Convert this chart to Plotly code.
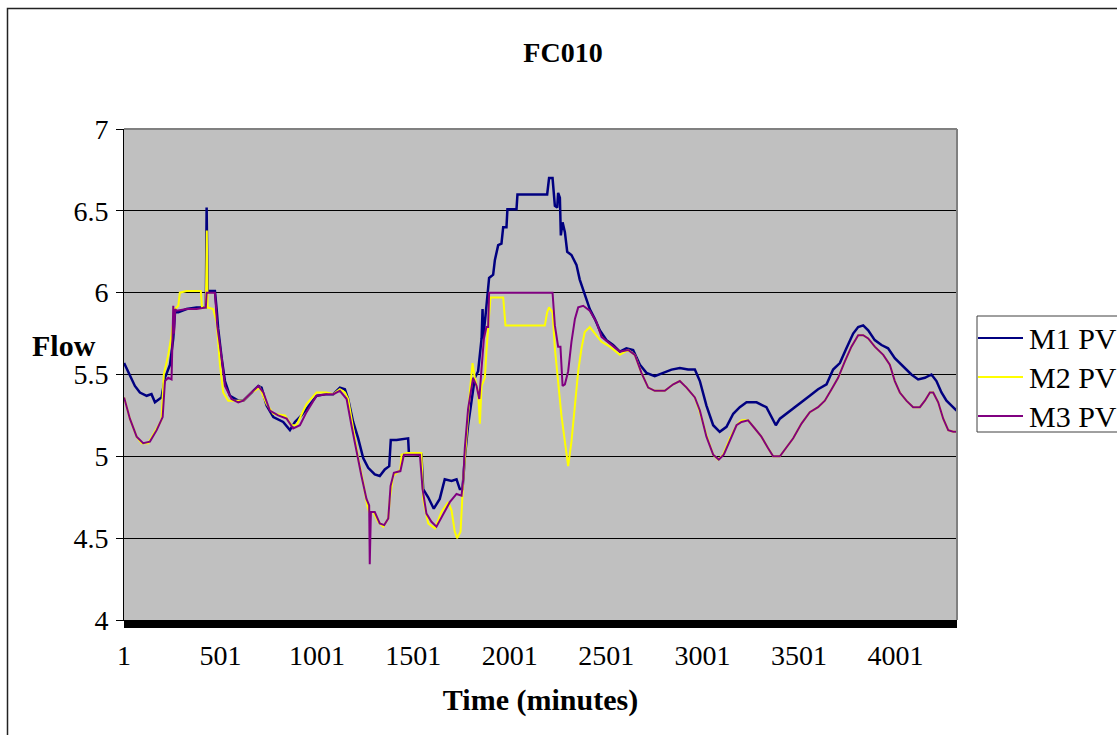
import plotly.graph_objects as go

# ---------------- data ----------------
N_MINUTES = 4320
x_tick_vals = [1, 501, 1001, 1501, 2001, 2501, 3001, 3501, 4001]
x_tick_text = ["1", "501", "1001", "1501", "2001", "2501", "3001", "3501", "4001"]
y_tick_vals = [4, 4.5, 5, 5.5, 6, 6.5, 7]

m1_t = [1, 31, 57, 83, 118, 143, 161, 195, 213, 239, 256, 265, 282, 325, 377, 425, 429, 434,
        472, 481, 489, 507, 524, 550, 593, 619, 654, 697, 714, 740, 775, 826, 861, 887, 921,
        965, 999, 1051, 1086, 1120, 1146, 1163, 1189, 1215, 1241, 1267, 1301, 1327, 1353,
        1376, 1384, 1414, 1474, 1478, 1543, 1552, 1578, 1607, 1638, 1664, 1699, 1725, 1742,
        1756, 1768, 1785, 1803, 1820, 1837, 1855, 1860, 1863, 1877, 1889, 1894, 1915, 1924,
        1941, 1958, 1967, 1984, 1989, 2036, 2041, 2105, 2195, 2205, 2223, 2235, 2247, 2252,
        2261, 2266, 2275, 2287, 2299, 2321, 2347, 2364, 2390, 2416, 2442, 2468, 2503, 2537,
        2572, 2606, 2641, 2676, 2710, 2753, 2797, 2840, 2883, 2926, 2961, 2987, 3021, 3056,
        3090, 3125, 3160, 3194, 3229, 3281, 3332, 3358, 3381, 3402, 3436, 3471, 3514, 3557,
        3600, 3644, 3678, 3713, 3747, 3782, 3808, 3834, 3860, 3894, 3929, 3963, 3998, 4041,
        4084, 4119, 4154, 4188, 4214, 4240, 4266, 4292, 4318]
m1_v = [5.57, 5.50, 5.43, 5.39, 5.37, 5.38, 5.33, 5.36, 5.48, 5.56, 5.72, 5.88, 5.88, 5.90,
        5.91, 5.91, 6.52, 6.01, 6.01, 5.90, 5.78, 5.60, 5.46, 5.37, 5.34, 5.34, 5.38, 5.43,
        5.42, 5.31, 5.24, 5.21, 5.16, 5.21, 5.25, 5.32, 5.37, 5.38, 5.38, 5.42, 5.41, 5.35,
        5.21, 5.11, 4.99, 4.93, 4.89, 4.88, 4.92, 4.94, 5.10, 5.10, 5.11, 5.02, 5.01, 4.80,
        4.75, 4.68, 4.74, 4.86, 4.85, 4.86, 4.80, 4.80, 4.99, 5.19, 5.35, 5.48, 5.52, 5.72,
        5.90, 5.72, 5.88, 6.01, 6.09, 6.11, 6.20, 6.29, 6.30, 6.40, 6.40, 6.51, 6.51, 6.60,
        6.60, 6.60, 6.70, 6.70, 6.53, 6.52, 6.61, 6.58, 6.35, 6.43, 6.37, 6.25, 6.23, 6.17,
        6.08, 5.99, 5.90, 5.84, 5.77, 5.71, 5.68, 5.64, 5.66, 5.65, 5.56, 5.51, 5.49, 5.51,
        5.53, 5.54, 5.53, 5.53, 5.46, 5.31, 5.19, 5.15, 5.18, 5.26, 5.30, 5.33, 5.33, 5.30,
        5.24, 5.19, 5.23, 5.26, 5.29, 5.33, 5.37, 5.41, 5.44, 5.53, 5.57, 5.66, 5.75, 5.79,
        5.80, 5.77, 5.71, 5.68, 5.66, 5.60, 5.55, 5.50, 5.47, 5.48, 5.50, 5.46, 5.39, 5.34,
        5.31, 5.28]

m2_t = [1, 31, 66, 92, 126, 161, 195, 207, 230, 247, 265, 282, 290, 325, 399, 405, 425, 430,
        434, 463, 481, 498, 515, 541, 584, 619, 662, 705, 740, 775, 835, 870, 895, 947, 999,
        1051, 1086, 1120, 1146, 1163, 1189, 1215, 1241, 1262, 1272, 1293, 1319, 1345, 1371,
        1379, 1396, 1414, 1434, 1440, 1466, 1543, 1552, 1578, 1613, 1647, 1682, 1699, 1716,
        1728, 1746, 1760, 1777, 1794, 1808, 1820, 1837, 1846, 1855, 1872, 1880, 1889, 1901,
        1967, 1979, 2183, 2195, 2205, 2223, 2235, 2252, 2269, 2287, 2304, 2321, 2339, 2356,
        2373, 2390, 2416, 2442, 2477, 2520, 2572, 2615, 2650, 2684, 2719, 2753, 2805, 2849,
        2883, 2918, 2961, 2987, 3021, 3056, 3082, 3108, 3142, 3177, 3203, 3237, 3272, 3306,
        3341, 3367, 3402, 3428, 3471, 3514, 3557, 3600, 3635, 3670, 3704, 3739, 3773, 3808,
        3834, 3860, 3894, 3938, 3972, 3998, 4024, 4058, 4093, 4128, 4154, 4180, 4197, 4223,
        4249, 4275, 4301, 4318]
m2_v = [5.36, 5.23, 5.12, 5.08, 5.08, 5.15, 5.22, 5.50, 5.62, 5.74, 5.90, 5.92, 6.00, 6.01,
        6.01, 5.91, 5.91, 6.38, 5.91, 5.90, 5.82, 5.56, 5.39, 5.34, 5.34, 5.34, 5.39, 5.42,
        5.32, 5.26, 5.25, 5.19, 5.19, 5.32, 5.39, 5.39, 5.38, 5.41, 5.39, 5.35, 5.17, 4.99,
        4.84, 4.70, 4.66, 4.66, 4.60, 4.57, 4.62, 4.74, 4.88, 4.90, 4.92, 5.01, 5.02, 5.02,
        4.74, 4.59, 4.56, 4.66, 4.72, 4.67, 4.54, 4.50, 4.54, 4.86, 5.15, 5.39, 5.57, 5.48,
        5.39, 5.20, 5.43, 5.48, 5.64, 5.76, 5.97, 5.97, 5.80, 5.80, 5.88, 5.91, 5.88, 5.66,
        5.46, 5.25, 5.09, 4.94, 5.09, 5.31, 5.52, 5.66, 5.76, 5.79, 5.75, 5.70, 5.67, 5.62,
        5.65, 5.62, 5.51, 5.42, 5.40, 5.40, 5.44, 5.46, 5.42, 5.36, 5.27, 5.13, 5.01, 4.98,
        5.01, 5.11, 5.19, 5.22, 5.22, 5.17, 5.12, 5.05, 5.00, 5.00, 5.04, 5.11, 5.20, 5.27,
        5.30, 5.34, 5.41, 5.48, 5.58, 5.67, 5.74, 5.74, 5.72, 5.67, 5.62, 5.56, 5.46, 5.39,
        5.34, 5.30, 5.30, 5.34, 5.39, 5.39, 5.33, 5.23, 5.16, 5.15, 5.15]

m3_t = [1, 31, 66, 100, 135, 170, 201, 213, 230, 247, 256, 260, 266, 273, 325, 377, 425, 429,
        472, 484, 507, 524, 558, 593, 619, 662, 697, 723, 757, 800, 844, 878, 913, 947, 999,
        1051, 1086, 1120, 1155, 1180, 1206, 1232, 1258, 1272, 1275, 1281, 1301, 1327, 1350,
        1371, 1383, 1400, 1434, 1452, 1535, 1549, 1569, 1595, 1621, 1656, 1690, 1725, 1751,
        1760, 1768, 1785, 1803, 1811, 1829, 1843, 1855, 1867, 1880, 1889, 1894, 2223, 2235,
        2252, 2264, 2275, 2287, 2304, 2321, 2339, 2356, 2382, 2416, 2451, 2477, 2520, 2572,
        2615, 2650, 2684, 2719, 2753, 2805, 2849, 2883, 2918, 2961, 2987, 3021, 3056, 3085,
        3111, 3142, 3177, 3203, 3237, 3272, 3306, 3341, 3367, 3402, 3428, 3471, 3514, 3557,
        3600, 3635, 3670, 3704, 3739, 3773, 3808, 3834, 3860, 3894, 3938, 3972, 3998, 4024,
        4058, 4093, 4128, 4154, 4180, 4197, 4223, 4249, 4275, 4301, 4318]
m3_v = [5.36, 5.23, 5.12, 5.08, 5.09, 5.16, 5.24, 5.46, 5.48, 5.47, 5.92, 5.75, 5.90, 5.89,
        5.90, 5.90, 5.91, 6.00, 6.00, 5.80, 5.60, 5.43, 5.35, 5.33, 5.34, 5.39, 5.43, 5.39,
        5.28, 5.25, 5.23, 5.17, 5.19, 5.27, 5.37, 5.38, 5.38, 5.40, 5.35, 5.19, 5.03, 4.88,
        4.74, 4.70, 4.34, 4.66, 4.66, 4.59, 4.58, 4.62, 4.82, 4.90, 4.91, 5.01, 5.01, 4.80,
        4.65, 4.60, 4.57, 4.65, 4.72, 4.77, 4.76, 4.86, 5.05, 5.29, 5.43, 5.48, 5.43, 5.35,
        5.54, 5.72, 5.79, 5.79, 6.00, 6.00, 5.80, 5.67, 5.67, 5.43, 5.44, 5.52, 5.70, 5.84,
        5.91, 5.92, 5.89, 5.82, 5.73, 5.69, 5.64, 5.65, 5.62, 5.51, 5.42, 5.40, 5.40, 5.44,
        5.46, 5.42, 5.36, 5.28, 5.12, 5.01, 4.98, 5.01, 5.10, 5.19, 5.21, 5.22, 5.17, 5.12,
        5.05, 5.00, 5.00, 5.04, 5.11, 5.20, 5.27, 5.30, 5.34, 5.41, 5.48, 5.58, 5.67, 5.74,
        5.74, 5.72, 5.67, 5.62, 5.56, 5.46, 5.39, 5.34, 5.30, 5.30, 5.34, 5.39, 5.39, 5.33,
        5.23, 5.16, 5.15, 5.15]

series_names = ["M1 PV", "M2 PV", "M3 PV"]
series_colors = ["#000080", "#FFFF00", "#800080"]

# ---------------- layout helpers (pixel -> paper) ----------------
W, H = 1117, 735
PL, PR, PT, PB = 124, 957, 129, 620


def px(x):
    return (x - PL) / (PR - PL)


def py(y):
    return (PB - y) / (PB - PT)


FONT = "Liberation Serif"
fig = go.Figure()
for name, t, v, c, w in zip(series_names, [m1_t, m2_t, m3_t], [m1_v, m2_v, m3_v],
                            series_colors, [2.5, 2, 2]):
    fig.add_trace(go.Scatter(x=t, y=v, mode="lines", name=name, showlegend=False,
                             line=dict(color=c, width=w)))

fig.update_layout(
    width=W, height=H,
    margin=dict(l=PL, r=W - PR, t=PT, b=H - PB, autoexpand=False),
    paper_bgcolor="white", plot_bgcolor="#C0C0C0",
    font=dict(family=FONT, size=28, color="black"),
    showlegend=False,
    title=dict(text="<b>FC010</b>", x=563 / W, y=1 - 52 / H, xref="container",
               yref="container", xanchor="center", yanchor="middle",
               font=dict(family=FONT, size=28, color="black")),
)

fig.update_xaxes(
    range=[0.5, N_MINUTES + 0.5], tickmode="array", tickvals=x_tick_vals,
    ticktext=x_tick_text, ticks="outside", ticklen=7, tickcolor="black", tickwidth=1,
    showgrid=False, zeroline=False, showline=True, linecolor="black", linewidth=1,
    tickfont=dict(family=FONT, size=28, color="black"), ticklabelstandoff=3,
    minor=dict(tickmode="linear", tick0=1, dtick=5, ticks="outside", ticklen=7,
               tickcolor="black", tickwidth=1, showgrid=False),
    title=dict(text="<b>Time (minutes)</b>", standoff=19,
               font=dict(family=FONT, size=30, color="black")),
)
fig.update_yaxes(
    range=[4, 7], tickmode="array", tickvals=y_tick_vals, ticks="outside", ticklen=7,
    tickcolor="black", showgrid=True, gridcolor="black", gridwidth=1, zeroline=False,
    showline=True, linecolor="black", linewidth=1,
    tickfont=dict(family=FONT, size=28, color="black"), ticklabelstandoff=2,
)

# outer chart border (runs past the right and bottom edges)
fig.add_shape(type="rect", xref="paper", yref="paper", x0=px(7.5), y0=py(H + 30),
              x1=px(W + 30), y1=py(8.5), line=dict(color="#222222", width=1.5),
              layer="below")
# plot area top/right border
fig.add_shape(type="line", xref="paper", yref="paper", x0=0, y0=1, x1=1, y1=1,
              line=dict(color="#808080", width=2), layer="above")
fig.add_shape(type="line", xref="paper", yref="paper", x0=1, y0=0, x1=1, y1=1,
              line=dict(color="#808080", width=2), layer="above")

# y-axis title (horizontal, as in the reference)
fig.add_annotation(text="<b>Flow</b>", xref="paper", yref="paper", x=px(64), y=py(345),
                   showarrow=False, font=dict(family=FONT, size=30, color="black"),
                   xanchor="center", yanchor="middle")

# legend box (clipped by the right edge, as in the reference)
fig.add_shape(type="rect", xref="paper", yref="paper", x0=px(977), y0=py(432),
              x1=px(W + 40), y1=py(316), line=dict(color="#404040", width=1),
              fillcolor="white", layer="above")
row_y = [338, 377, 416]
for name, c, ry in zip(series_names, series_colors, row_y):
    fig.add_shape(type="line", xref="paper", yref="paper", x0=px(978), x1=px(1023),
                  y0=py(ry), y1=py(ry), line=dict(color=c, width=2), layer="above")
    fig.add_annotation(text=name, xref="paper", yref="paper", x=px(1027), y=py(ry),
                       showarrow=False, xanchor="left", yanchor="middle",
                       font=dict(family=FONT, size=30, color="black"))

fig.write_html("out.html")
